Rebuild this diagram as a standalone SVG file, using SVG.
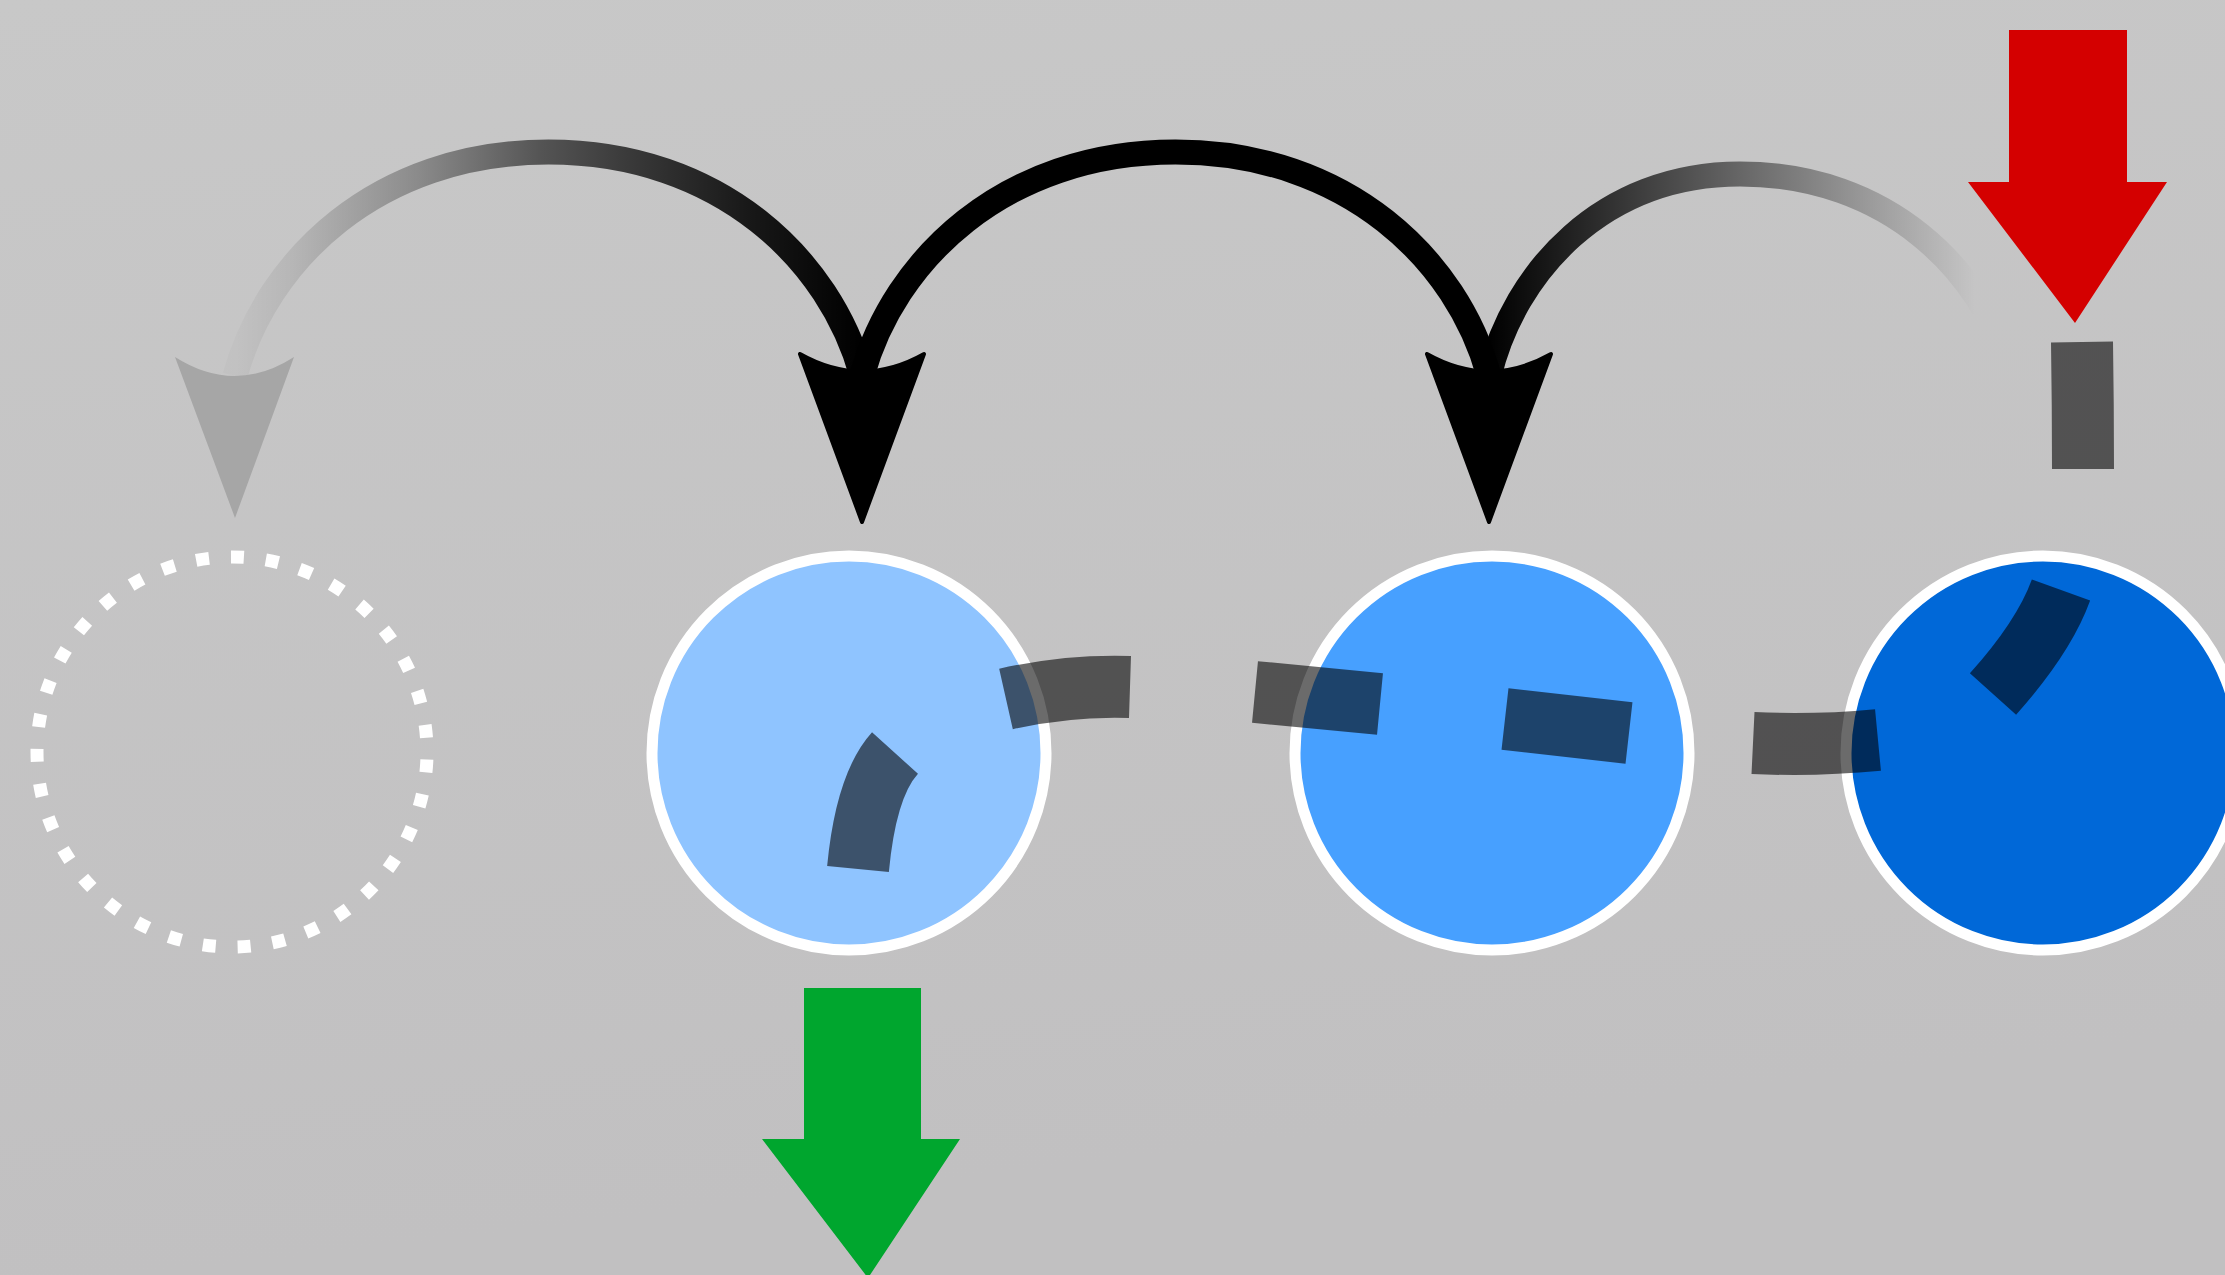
<svg xmlns="http://www.w3.org/2000/svg" width="2225" height="1275" viewBox="0 0 2225 1275">
<defs>
  <linearGradient id="bg" gradientUnits="userSpaceOnUse" x1="0" y1="0" x2="150" y2="1275">
    <stop offset="0" stop-color="#c8c8c8"/>
    <stop offset="1" stop-color="#c1c0c1"/>
  </linearGradient>
  <linearGradient id="fadeLeft" gradientUnits="userSpaceOnUse" x1="862" y1="0" x2="235" y2="0">
    <stop offset="0" stop-color="#000" stop-opacity="1"/>
    <stop offset="0.18" stop-color="#000" stop-opacity="0.88"/>
    <stop offset="0.34" stop-color="#000" stop-opacity="0.74"/>
    <stop offset="0.51" stop-color="#000" stop-opacity="0.58"/>
    <stop offset="0.71" stop-color="#000" stop-opacity="0.3"/>
    <stop offset="0.91" stop-color="#000" stop-opacity="0.08"/>
    <stop offset="1" stop-color="#000" stop-opacity="0.02"/>
  </linearGradient>
  <linearGradient id="fadeRight" gradientUnits="userSpaceOnUse" x1="1489" y1="0" x2="1975" y2="0">
    <stop offset="0" stop-color="#000" stop-opacity="1"/>
    <stop offset="1" stop-color="#000" stop-opacity="0"/>
  </linearGradient>
  <path id="blackHead" d="M -62 -16 Q 0 19 62 -16 L 0 152 Z"/>
</defs>
<style>
  .arc { fill: none; stroke-width: 25; }
  .node { stroke: #fff; stroke-width: 11; }
  .head { fill: #000; stroke: #000; stroke-width: 4; stroke-linejoin: round; }
  .dash { fill: none; stroke: #000; stroke-opacity: 0.58; stroke-width: 62; stroke-linecap: butt; }
  .block { stroke: none; }
</style>
<rect x="0" y="0" width="2225" height="1275" fill="url(#bg)"/>

<g id="node-empty">
  <circle cx="232" cy="752" r="195" fill="none" stroke="#fff" stroke-width="13" stroke-dasharray="13 22" stroke-dashoffset="-7.5"/>
</g>
<g id="node-light">
  <circle class="node" cx="849" cy="753" r="197" fill="#8fc4ff"/>
</g>
<g id="node-medium">
  <circle class="node" cx="1492" cy="753" r="197" fill="#47a0ff"/>
</g>
<g id="node-dark">
  <circle class="node" cx="2043" cy="753" r="197" fill="#0068d8"/>
</g>
<g id="arrow-in">
  <path class="block" fill="#d40000" d="M 2009 30 L 2127 30 L 2127 182 L 2167 182 L 2075 323 L 1968 182 L 2009 182 Z"/>
</g>
<g id="arrow-out">
  <path class="block" fill="#00a62e" d="M 804 988 L 921 988 L 921 1139 L 960 1139 L 868 1278 L 762 1139 L 804 1139 Z"/>
</g>

<g id="connectors">
  <path class="arc" stroke="url(#fadeLeft)" d="M 235 376 C 266.3 261, 376.1 152, 548.5 152 C 720.9 152, 830.7 261, 862 376"/>
  <path class="arc" stroke="#000" d="M 862 376 C 893.3 261, 1003.1 152, 1175.5 152 C 1347.9 152, 1457.7 261, 1489 376"/>
  <path class="arc" stroke="url(#fadeRight)" d="M 1489 376 C 1514.1 272, 1602 174, 1740 174 C 1888.5 174, 1983 272, 2010 370"/>
  <path fill="#a6a6a6" d="M 175 357 Q 235 395 294 357 L 235 518 Z"/>
  <use href="#blackHead" class="head" x="862" y="370"/>
  <use href="#blackHead" class="head" x="1489" y="370"/>
  <path class="dash" d="M 2082 342 Q 2083 405 2083 469 M 2061 590 Q 2044 637 1993 694 M 1878 740 Q 1815 746 1753 743 M 1629 733 L 1505 719 M 1380 704 L 1255 692 M 1130 687 Q 1068 685 1006 699 M 895 753 Q 866 785 858 869"/>
</g>
</svg>
